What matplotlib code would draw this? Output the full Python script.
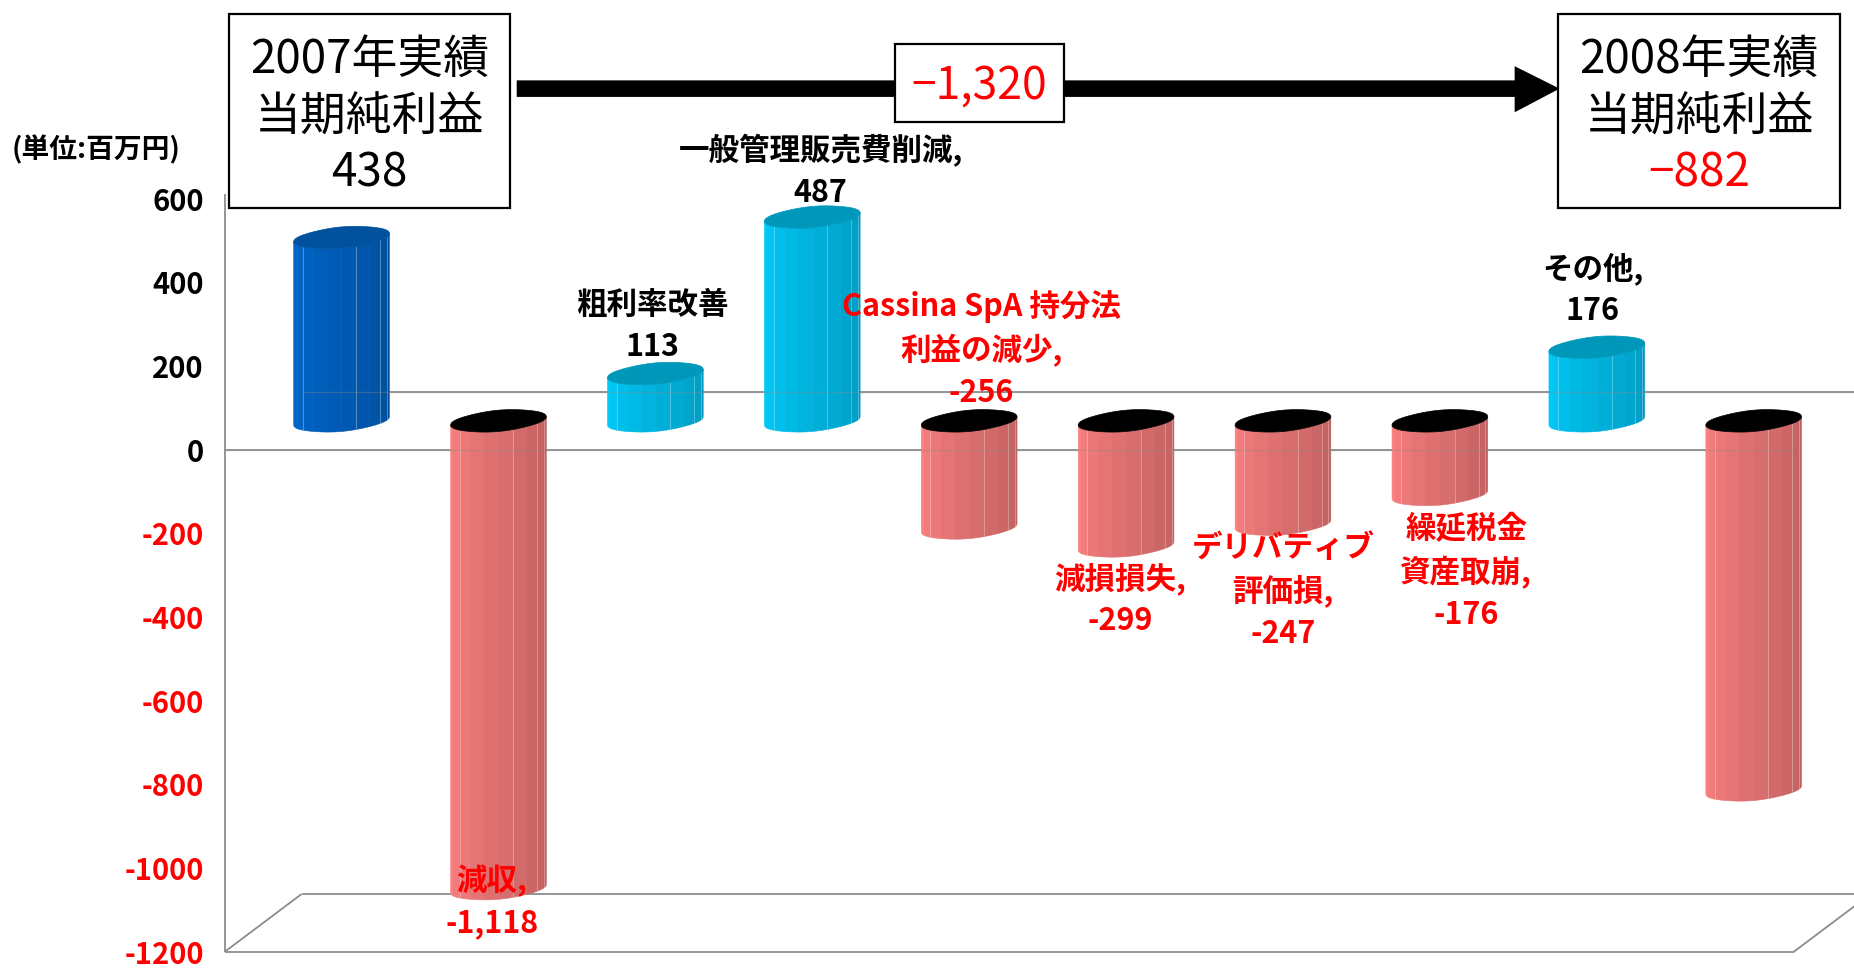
import numpy as np
import matplotlib
matplotlib.use('Agg')
import matplotlib.pyplot as plt
from matplotlib.patches import Polygon, Rectangle
import matplotlib.colors as mcolors

plt.rcParams['font.family'] = ['Noto Sans CJK JP', 'DejaVu Sans']

# ---------------- data ----------------
categories = ['2007年実績', '減収', '粗利率改善', '一般管理販売費削減',
              'Cassina SpA 持分法利益の減少', '減損損失', 'デリバティブ評価損',
              '繰延税金資産取崩', 'その他', '2008年実績']
values = [438, -1118, 113, 487, -256, -299, -247, -176, 176, -882]
kinds = ['total', 'neg', 'pos', 'pos', 'neg', 'neg', 'neg', 'neg', 'pos', 'neg']
bar_labels = ['', '減収,\n-1,118', '粗利率改善\n113', '一般管理販売費削減,\n487',
              'Cassina SpA 持分法\n利益の減少,\n-256', '減損損失,\n-299',
              'デリバティブ\n評価損,\n-247', '繰延税金\n資産取崩,\n-176',
              'その他,\n176', '']
yticks = [600, 400, 200, 0, -200, -400, -600, -800, -1000, -1200]
ytick_labels = ['600', '400', '200', '0', '-200', '-400', '-600', '-800', '-1000', '-1200']
start_title = ['2007年実績', '当期純利益']
end_title = ['2008年実績', '当期純利益']
start_value_label = '438'
end_value_label = '−882'
change_label = '−1,320'
unit_label = '(単位:百万円)'

# ---------------- style ----------------
RED = '#FF0000'
GRID = '#8C8C8C'
styles = {
    'total': dict(left='#0068D0', right='#004E9A', cap='#00529E'),
    'pos':   dict(left='#00CFFF', right='#0098BE', cap='#0098BA'),
    'neg':   dict(left='#FF8282', right='#BD5E5E', cap='#000000'),
}

W, H = 1854, 968
S = W / 1568.0
fig = plt.figure(figsize=(W / 100, H / 100), dpi=100)


def fx(x):
    return x * S / W


def fy(y):
    return 1 - y * S / H


# front plane of the 3D box
ax = fig.add_axes([fx(190), fy(805), fx(1517) - fx(190), fy(168) - fy(805)])
ax.set_xlim(-0.5, 9.5)
ax.set_ylim(-1200, 600)
for sp in ax.spines.values():
    sp.set_visible(False)
ax.set_xticks([])
ax.set_yticks(yticks)
ax.set_yticklabels(ytick_labels, fontsize=21, fontweight='bold')
for lab, v in zip(ax.get_yticklabels(), yticks):
    lab.set_color(RED if v < 0 else 'black')
ax.tick_params(axis='y', length=0, pad=15)
ax.patch.set_visible(False)

DX, DY = 0.49, 138.0        # depth offset of the 3D box
x0, x1 = -0.5, 9.5
ymin, ymax = -1200, 600
lk = dict(color=GRID, lw=1.3, clip_on=False, solid_capstyle='butt')
# axis line, floor and zero lines
ax.plot([x0, x0], [ymin, ymax + 10], zorder=1, **lk)
ax.plot([x0, x1], [ymin, ymin], zorder=1, **lk)
ax.plot([x0, x0 + DX], [ymin, ymin + DY], zorder=1, **lk)
ax.plot([x0 + DX, x1 + DX], [ymin + DY, ymin + DY], zorder=1, **lk)
ax.plot([x1, x1 + DX], [ymin, ymin + DY], zorder=1, **lk)
ax.plot([x0 + DX, x1 + DX], [DY, DY], zorder=1, **lk)
ax.plot([x0, x1], [0, 0], zorder=1, **lk)
# faint overlay of zero lines (visible through bars as in the original)
ax.plot([x0 + DX, x1 + DX], [DY, DY], color=GRID, lw=1.0, alpha=0.35, zorder=6, clip_on=False)
ax.plot([x0, x1], [0, 0], color=GRID, lw=1.0, alpha=0.35, zorder=6, clip_on=False)

# ---------------- cylinders ----------------
BW = 0.61      # bar width (category units)
HH = 24.0      # half height of the elliptic cap (value units)
TILT = 10.0    # cap tilt (right side higher)
NSTRIP = 10


def ell(cx, cy, t):
    # slightly blobby ellipse (flattened sides like the original caps)
    r = 1 + 0.06 * np.cos(2 * t) ** 2
    return (cx + BW / 2 * np.cos(t) * min(1.0, 1.0),
            cy + HH * np.sin(t) * r + TILT * np.cos(t))


def draw_cylinder(cx, y_top, y_bot, st, zo):
    cl = np.array(mcolors.to_rgb(st['left']))
    cr = np.array(mcolors.to_rgb(st['right']))
    edges = np.linspace(np.pi, 2 * np.pi, NSTRIP + 1)
    for k in range(NSTRIP):
        ts = np.linspace(edges[k], edges[k + 1], 8)
        xt, yt = ell(cx, y_top, ts)
        xb, yb = ell(cx, y_bot, ts[::-1])
        f = (k + 0.5) / NSTRIP
        f = f ** 0.9
        col = cl * (1 - f) + cr * f
        poly = Polygon(np.column_stack([np.r_[xt, xb], np.r_[yt, yb]]),
                       closed=True, facecolor=col, edgecolor=col, lw=0.4,
                       zorder=zo, clip_on=False)
        ax.add_patch(poly)
        if k in (1, 5, 7, 8):
            xe, ye = ell(cx, y_top, edges[k + 1])
            _, ye2 = ell(cx, y_bot, edges[k + 1])
            ax.plot([xe, xe], [ye, ye2], color='white', alpha=0.35, lw=0.6,
                    zorder=zo + 0.1, clip_on=False)
    tt = np.linspace(0, 2 * np.pi, 120)
    xc, yc = ell(cx, y_top, tt)
    ax.add_patch(Polygon(np.column_stack([xc, yc]), closed=True,
                         facecolor=st['cap'], edgecolor=st['cap'], lw=0.5,
                         zorder=zo + 0.2, clip_on=False))


for i, (v, kd) in enumerate(zip(values, kinds)):
    cx = i + DX / 2
    base = DY / 2
    st = styles[kd]
    if v >= 0:
        draw_cylinder(cx, base + v, base, st, 3 + i * 0.01)
    else:
        draw_cylinder(cx, base, base + v, st, 3 + i * 0.01)

# ---------------- overlay: boxes, arrow, labels ----------------
ox = fig.add_axes([0, 0, 1, 1], zorder=5)
ox.set_xlim(0, 1568)
ox.set_ylim(819, 0)
ox.axis('off')
ox.patch.set_visible(False)

# arrow
shaft_y, shaft_h = 75, 14
arrow = Polygon([(437, shaft_y - shaft_h / 2), (1281, shaft_y - shaft_h / 2), (1281, 56),
                 (1319, shaft_y), (1281, 95), (1281, shaft_y + shaft_h / 2),
                 (437, shaft_y + shaft_h / 2)], closed=True, facecolor='black',
                edgecolor='black', lw=0)
ox.add_patch(arrow)

box_kw = dict(facecolor='white', edgecolor='black', lw=1.6)
ox.add_patch(Rectangle((194, 12), 237, 164, **box_kw))
ox.add_patch(Rectangle((1318, 12), 238, 164, **box_kw))
ox.add_patch(Rectangle((757, 37), 143, 66, **box_kw))

bt = dict(ha='center', va='center', fontsize=33)
ox.text(312.5, 50, start_title[0], **bt)
ox.text(312.5, 99, start_title[1], **bt)
ox.text(312.5, 147, start_value_label, **bt)
ox.text(1437, 50, end_title[0], **bt)
ox.text(1437, 99, end_title[1], **bt)
ox.text(1437, 147, end_value_label, color=RED, **bt)
ox.text(828.5, 72, change_label, color=RED, ha='center', va='center', fontsize=32)

ox.text(10, 127, unit_label, ha='left', va='center', fontsize=20, fontweight='bold')

label_pos = {1: (416, 763), 2: (552, 276), 3: (694, 145), 4: (830, 296),
             5: (947, 507), 6: (1085, 500), 7: (1240, 484), 8: (1347, 245)}
for i, s in enumerate(bar_labels):
    if not s:
        continue
    px, py = label_pos[i]
    ox.text(px, py, s, ha='center', va='center', multialignment='center',
            fontsize=22, fontweight='bold', linespacing=1.4,
            color=RED if values[i] < 0 else 'black')

fig.savefig('out.png', dpi=100)
